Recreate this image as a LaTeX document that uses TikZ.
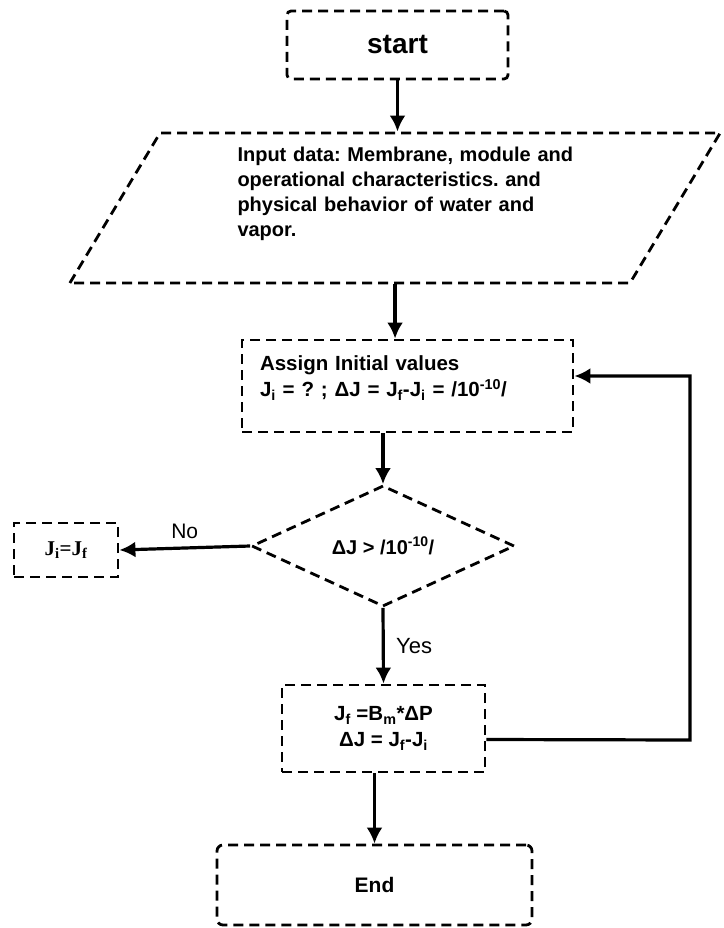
\documentclass[tikz,border=0pt]{standalone}
\usepackage{fontspec}
\setmainfont{Liberation Sans}
\newfontfamily\serifbold{Liberation Serif}
\usepackage{tikz}
\usetikzlibrary{arrows.meta, shapes.geometric, calc}
\usetikzlibrary{positioning}
\frenchspacing

\begin{document}
\begin{tikzpicture}[x=1pt, y=-1pt,
    dbox/.style={draw, dash pattern=on 10pt off 6pt, line width=2.8pt, inner sep=0pt},
    arr/.style={line width=3.2pt, -{Latex[length=16pt, width=16pt]}},
    every node/.style={font=\fontsize{20.5}{26}\selectfont\bfseries}]
    \useasboundingbox (0,0) rectangle (723,928);
    \node[dbox, rounded corners=4pt, minimum width=221pt, minimum height=68pt, font=\fontsize{28}{32}\selectfont\bfseries] at (397.5,45) (start) {start};
    \node[dbox, trapezium, trapezium left angle=59, trapezium right angle=121, text width=470pt, text height=150pt, text depth=0pt] at (395,208) (input) {};
    \node[align=left, text width=345pt, font=\fontsize{20}{25}\selectfont\bfseries] at ([xshift=15pt, yshift=14pt]input.center) (inputtext) {Input data: Membrane, module and\\operational characteristics. and\\physical behavior of water and\\vapor.};
    \node[dbox, minimum width=331pt, minimum height=92pt] at (407.5,386) (assign) {};
    \node[align=left, text width=295pt] at ([yshift=8pt]assign.center) (assigntext) {Assign Initial values\\J\textsubscript{i} = ? ; ΔJ = J\textsubscript{f}-J\textsubscript{i} = /10\textsuperscript{-10}/};
    \node[dbox, diamond, aspect=2.17, minimum width=263pt, minimum height=121pt, font=\fontsize{20}{25}\selectfont\bfseries] at (383,546) (cond) {ΔJ > /10\textsuperscript{-10}/};
    \node[dbox, minimum width=104pt, minimum height=54pt, font=\fontsize{21}{25}\selectfont\bfseries\serifbold] at (66,550) (swap) {J\textsubscript{i}=J\textsubscript{f}};
    \node[dbox, minimum width=203pt, minimum height=87pt, align=center] at (383.5,728.5) (update) {J\textsubscript{f} =B\textsubscript{m}*ΔP\\ΔJ = J\textsubscript{f}-J\textsubscript{i}};
    \node[dbox, rounded corners=6pt, minimum width=315pt, minimum height=80pt, font=\fontsize{21}{25}\selectfont\bfseries] at (374.5,885) (finish) {End};
    \draw[arr] (start.south) -- (start.south |- input.north);
    \draw[arr] (input.south) -- (input.south |- assign.north);
    \draw[arr] (cond.north |- assign.south) -- (cond.north);
    \draw[arr] (cond.west) -- node[above=4pt, font=\fontsize{21}{24}\selectfont] (no) {No} (swap.east);
    \draw[arr] (cond.south) -- node[right=8pt, font=\fontsize{22}{24}\selectfont] (yes) {Yes} (update.north);
    \draw[arr] (finish.north |- update.south) -- (finish.north);
    \coordinate (loop) at (690,740);
    \draw[arr] ([yshift=-11pt]update.east) -- (loop) |- ([yshift=10pt]assign.east);
\end{tikzpicture}
\end{document}
